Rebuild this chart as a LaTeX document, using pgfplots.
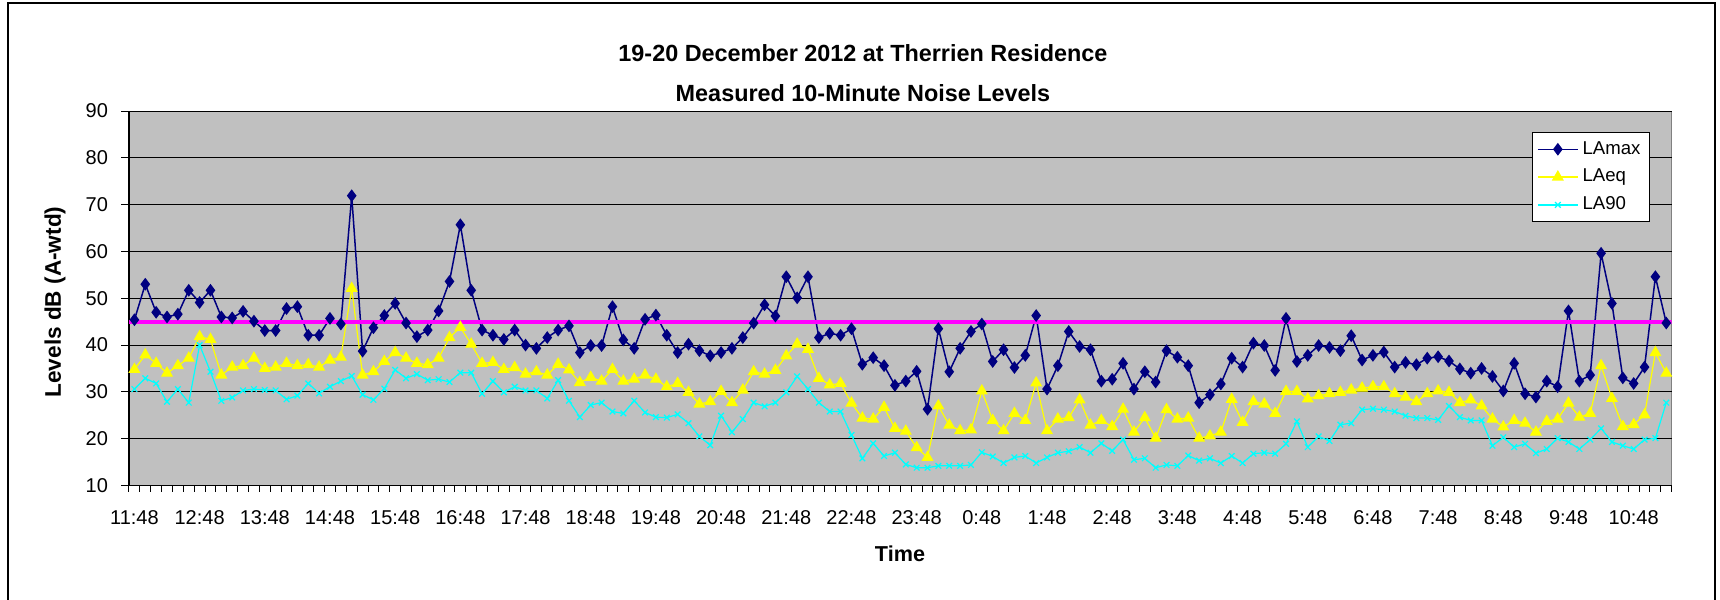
\documentclass[border=0pt]{standalone}
\usepackage{fontspec}
\setmainfont{Liberation Sans}
\usepackage{pgfplots}
\usepackage{pgfplotstable}
\pgfplotsset{compat=1.18}
\definecolor{plotgray}{HTML}{C0C0C0}
\definecolor{navyc}{HTML}{000080}
\definecolor{yel}{HTML}{FFFF00}
\definecolor{cya}{HTML}{00FFFF}
\definecolor{mag}{HTML}{FF00FF}
\pgfplotstableread{
i max eq l90
0 45.4 34.8 30.6
1 53.0 37.9 32.9
2 47.0 36.1 31.8
3 46.0 34.0 27.9
4 46.6 35.6 30.6
5 51.7 37.2 27.7
6 49.1 41.8 40.0
7 51.7 41.2 34.3
8 46.0 33.6 28.1
9 45.8 35.3 28.8
10 47.2 35.6 30.3
11 45.1 37.2 30.6
12 43.1 35.0 30.4
13 43.1 35.3 30.3
14 47.8 36.1 28.4
15 48.2 35.6 29.2
16 42.1 35.8 31.8
17 42.1 35.3 29.7
18 45.7 36.8 31.1
19 44.5 37.4 32.3
20 71.9 52.1 33.4
21 38.7 33.6 29.4
22 43.7 34.3 28.3
23 46.3 36.5 30.7
24 48.9 38.4 34.7
25 44.7 37.2 32.9
26 41.8 36.1 33.8
27 43.2 35.8 32.5
28 47.3 37.2 32.7
29 53.6 41.6 32.1
30 65.7 43.8 34.1
31 51.7 40.2 34.1
32 43.2 36.1 29.6
33 42.1 36.3 32.3
34 41.2 34.8 29.9
35 43.2 35.2 31.1
36 40.0 33.8 30.3
37 39.3 34.3 30.3
38 41.6 33.6 28.6
39 43.2 35.9 32.5
40 44.1 34.7 28.1
41 38.4 32.0 24.6
42 39.9 33.1 27.2
43 39.9 32.3 27.7
44 48.2 34.8 25.8
45 41.1 32.3 25.4
46 39.3 32.7 28.1
47 45.5 33.6 25.6
48 46.4 32.7 24.6
49 42.1 31.1 24.5
50 38.4 31.8 25.2
51 40.2 29.9 23.3
52 38.8 27.4 20.5
53 37.7 27.9 18.6
54 38.4 30.1 24.9
55 39.3 27.7 21.4
56 41.6 30.4 24.2
57 44.7 34.3 27.7
58 48.6 33.8 26.9
59 46.2 34.6 27.7
60 54.6 37.7 29.9
61 50.1 40.2 33.3
62 54.6 39.1 30.6
63 41.6 32.9 27.7
64 42.5 31.5 25.8
65 42.1 31.8 25.8
66 43.5 27.6 20.8
67 35.9 24.4 15.8
68 37.3 24.2 19.0
69 35.6 26.7 16.3
70 31.4 22.2 17.0
71 32.3 21.6 14.5
72 34.4 18.1 13.8
73 26.3 16.0 13.8
74 43.5 27.0 14.2
75 34.3 22.9 14.2
76 39.3 21.7 14.2
77 42.9 21.9 14.4
78 44.5 30.2 17.1
79 36.5 23.9 16.2
80 39.0 21.7 14.8
81 35.2 25.4 16.0
82 37.8 23.9 16.3
83 46.3 31.9 14.8
84 30.6 21.7 16.0
85 35.6 24.2 17.0
86 42.9 24.5 17.3
87 39.7 28.3 18.2
88 39.0 22.9 17.0
89 32.3 23.9 19.0
90 32.7 22.6 17.4
91 36.1 26.3 19.8
92 30.6 21.4 15.5
93 34.3 24.5 15.8
94 32.1 20.1 13.8
95 38.8 26.2 14.4
96 37.4 24.2 14.2
97 35.6 24.4 16.4
98 27.7 20.1 15.3
99 29.4 20.6 15.8
100 31.7 21.4 14.8
101 37.2 28.4 16.3
102 35.3 23.5 14.8
103 40.4 27.9 16.8
104 39.9 27.4 17.0
105 34.6 25.4 16.8
106 45.7 30.1 18.9
107 36.5 30.1 23.7
108 37.8 28.5 18.2
109 39.9 29.2 20.5
110 39.5 29.6 19.5
111 38.8 29.9 23.0
112 42.0 30.4 23.3
113 36.8 30.8 26.2
114 37.8 31.1 26.4
115 38.5 31.1 26.2
116 35.3 29.6 25.8
117 36.3 28.9 24.9
118 35.8 27.9 24.4
119 37.2 29.6 24.4
120 37.5 30.2 24.0
121 36.6 29.9 27.0
122 34.9 27.7 24.6
123 34.0 28.3 23.9
124 35.0 27.0 23.9
125 33.3 24.2 18.5
126 30.2 22.5 20.3
127 36.1 23.9 18.2
128 29.6 23.3 18.9
129 28.9 21.4 16.9
130 32.3 23.7 17.8
131 31.1 24.2 20.1
132 47.3 27.6 19.3
133 32.3 24.6 17.8
134 33.6 25.4 19.8
135 59.6 35.6 22.2
136 48.9 28.6 19.3
137 33.0 22.6 18.5
138 31.8 23.0 17.8
139 35.3 25.1 19.8
140 54.6 38.4 20.1
141 44.7 34.0 27.7
}\datatable
\begin{document}
\begin{tikzpicture}
\path[use as bounding box] (0,0) rectangle (860pt,300pt);
\draw[black, line width=1pt] (4pt,-5pt) rectangle (857.5pt,298.5pt);
\node[font=\fontsize{11.7}{13}\selectfont\bfseries] at (431.5pt,273.2pt) {19-20 December 2012 at Therrien Residence};
\node[font=\fontsize{11.7}{13}\selectfont\bfseries] at (431.5pt,253.5pt) {Measured 10-Minute Noise Levels};
\node[font=\fontsize{11.3}{13}\selectfont\bfseries, rotate=90] at (27.5pt,149pt) {Levels dB (A-wtd)};
\node[font=\fontsize{10.8}{13}\selectfont\bfseries] at (450pt,23pt) {Time};
\begin{axis}[
  at={(64.5pt,57.25pt)}, anchor=south west,
  width=771.35pt, height=187.25pt, scale only axis,
  xmin=-0.5, xmax=141.5, ymin=10, ymax=90,
  ytick={10,20,...,90},
  ymajorgrids, major grid style={black, line width=0.5pt},
  xtick={0,6,...,138},
  xticklabels={11:48,12:48,13:48,14:48,15:48,16:48,17:48,18:48,19:48,20:48,21:48,22:48,23:48,0:48,1:48,2:48,3:48,4:48,5:48,6:48,7:48,8:48,9:48,10:48},
  minor xtick={-0.5,0.5,...,141.5},
  major x tick style={draw=none},
  tick align=outside, major tick length=4pt, minor tick length=3pt,
  tick style={black, line width=0.5pt},
  axis lines*=left, axis line style={-, black, line width=0.75pt},
  axis background/.style={fill=plotgray, draw=gray},
  tick label style={font=\fontsize{10}{12}\selectfont},
  /pgf/number format/assume math mode=true,
  xticklabel style={yshift=-5pt},
  yticklabel style={xshift=-3pt},
  legend style={at={(rel axis cs:0.9095,0.943)}, anchor=north west, draw=black, fill=white,
    font=\fontsize{9.3}{11}\selectfont, row sep=2pt, inner sep=2.3pt},
  legend cell align=left,
  legend image code/.code={\draw[mark repeat=2,mark phase=2] plot coordinates {(0pt,0pt) (10pt,0pt) (20pt,0pt)};},
]
\addplot[navyc, line width=0.75pt, mark=diamond*, mark size=2.6pt, mark options={solid, fill=navyc}] table[x=i,y=max]{\datatable};
\addlegendentry{LAmax}
\addplot[yel, line width=0.6pt, mark=triangle*, mark size=2.9pt, mark options={solid, fill=yel}] table[x=i,y=eq]{\datatable};
\addlegendentry{LAeq}
\addplot[cya, line width=0.6pt, mark=x, mark size=2pt, mark options={solid}] table[x=i,y=l90]{\datatable};
\addlegendentry{LA90}
\addplot[mag, line width=2pt, forget plot] coordinates {(-0.5,45) (141.5,45)};
\end{axis}
\end{tikzpicture}
\end{document}
